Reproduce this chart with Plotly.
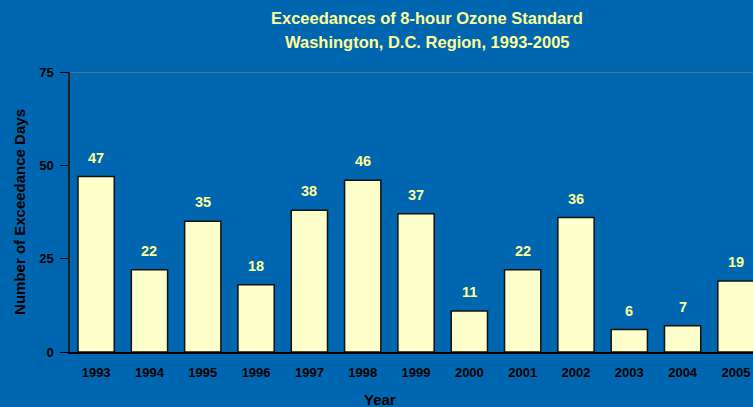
import plotly.graph_objects as go

years = ["1993", "1994", "1995", "1996", "1997", "1998", "1999",
         "2000", "2001", "2002", "2003", "2004", "2005"]
exceedances = [47, 22, 35, 18, 38, 46, 37, 11, 22, 36, 6, 7, 19]
y_ticks = [0, 25, 50, 75]
title_lines = ["Exceedances of 8-hour Ozone Standard", "Washington, D.C. Region, 1993-2005"]

bg = "#0066B0"
yellow = "#FFFF99"
bar_fill = "#FFFFCC"
FONT = "Liberation Sans, Arial"

fig = go.Figure()
fig.add_trace(go.Bar(
    x=list(range(len(years))), y=exceedances, width=0.68,
    marker=dict(color=bar_fill, line=dict(color="#111111", width=1.5)),
    hoverinfo="skip",
))

for i, v in enumerate(exceedances):
    fig.add_annotation(x=i, y=v, xref="x", yref="y", text=f"<b>{v}</b>", showarrow=False,
                       yshift=19, yanchor="middle",
                       font=dict(family=FONT, size=14.5, color=yellow))

for line, ypos in zip(title_lines, [1.193, 1.107]):
    fig.add_annotation(x=0.523, y=ypos, xref="paper", yref="paper", text=f"<b>{line}</b>",
                       showarrow=False, yanchor="middle", xanchor="center",
                       font=dict(family=FONT, size=16.5, color=yellow))

fig.add_annotation(x=0.454, y=-0.171, xref="paper", yref="paper", text="<b>Year</b>",
                   showarrow=False, yanchor="middle",
                   font=dict(family=FONT, size=15, color="#000000"))

fig.update_layout(
    width=753, height=407,
    paper_bgcolor=bg, plot_bgcolor=bg,
    margin=dict(l=70, r=0, t=72, b=55),
    showlegend=False,
    xaxis=dict(
        range=[-0.49, 12.32],
        tickvals=list(range(len(years))), ticktext=[f"<b>{y}</b>" for y in years],
        showline=True, linecolor="#000000", linewidth=1.5,
        ticks="", showgrid=False, zeroline=False, ticklabelstandoff=8,
        tickfont=dict(family=FONT, size=13, color="#000000"),
    ),
    yaxis=dict(
        range=[0, 75], tickvals=y_ticks, ticktext=[f"<b>{t}</b>" for t in y_ticks],
        showline=True, linecolor="#222222", linewidth=1.5,
        ticks="outside", ticklen=8, tickcolor="#000000",
        showgrid=False, zeroline=False, ticklabelstandoff=4,
        tickfont=dict(family=FONT, size=13, color="#000000"),
        title=dict(text="<b>Number of Exceedance Days</b>", standoff=10,
                   font=dict(family=FONT, size=15, color="#000000")),
    ),
    shapes=[dict(type="line", xref="paper", yref="y", x0=0, x1=1, y0=75, y1=75,
                 line=dict(color="#777777", width=1.5))],
)

fig.write_html("out.html", config={"displayModeBar": False},
               post_script="document.body.style.margin='0';document.body.style.overflow='hidden';")
